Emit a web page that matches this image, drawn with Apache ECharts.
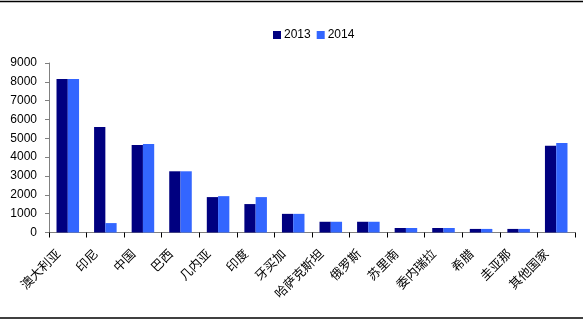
<!DOCTYPE html>
<html>
<head>
<meta charset="utf-8">
<style>
  html, body { margin: 0; padding: 0; background: #ffffff; }
  #chart { width: 587px; height: 322px; }
</style>
<script src="https://cdn.jsdelivr.net/npm/echarts@6/dist/echarts.min.js"></script>
</head>
<body>
<div id="chart"></div>
<script>
// Countries on the category axis
const countries = ['澳大利亚', '印尼', '中国', '巴西', '几内亚', '印度', '牙买加', '哈萨克斯坦', '俄罗斯', '苏里南', '委内瑞拉', '希腊', '圭亚那', '其他国家'];
// Yearly values per country
const values2013 = [8150, 5600, 4650, 3250, 1880, 1510, 990, 570, 570, 240, 240, 190, 190, 4600];
const values2014 = [8150, 500, 4700, 3250, 1930, 1880, 990, 570, 570, 240, 240, 190, 190, 4750];
// Value axis range
const yMin = 0, yMax = 9000, yStep = 1000;

const chart = echarts.init(document.getElementById('chart'), null, { renderer: 'canvas' });

chart.setOption({
  animation: false,
  backgroundColor: '#ffffff',
  legend: {
    top: 24,
    left: 268,
    itemWidth: 8,
    itemHeight: 8,
    itemGap: 6,
    icon: 'rect',
    textStyle: { fontFamily: 'Arial, "Liberation Sans", sans-serif', fontSize: 12, color: '#000', padding: [0, 0, 0, -2] },
    data: ['2013', '2014']
  },
  grid: { left: 49, right: 12, top: 63, bottom: 89.5, containLabel: false },
  xAxis: {
    type: 'category',
    data: countries,
    boundaryGap: true,
    axisLine: { lineStyle: { color: '#808080', width: 1 } },
    axisTick: { show: true, alignWithLabel: false, length: 5, lineStyle: { color: '#000' } },
    axisLabel: {
      interval: 0,
      rotate: 45,
      margin: 9,
      padding: [0, 14, 0, 0],
      fontFamily: '"Noto Sans CJK SC", sans-serif',
      fontSize: 12.5,
      color: '#000'
    }
  },
  yAxis: {
    type: 'value',
    min: yMin,
    max: yMax,
    interval: yStep,
    splitLine: { show: false },
    axisLine: { show: true, lineStyle: { color: '#808080', width: 1 } },
    axisTick: { show: true, length: 4, lineStyle: { color: '#808080' } },
    axisLabel: {
      margin: 12,
      formatter: function (v) { return String(v); },
      fontFamily: 'Arial, "Liberation Sans", sans-serif',
      fontSize: 12,
      color: '#000'
    }
  },
  series: [
    {
      name: '2013',
      type: 'bar',
      data: values2013,
      barGap: '0%',
      barCategoryGap: '40%',
      itemStyle: { color: '#000080' }
    },
    {
      name: '2014',
      type: 'bar',
      data: values2014,
      barGap: '0%',
      barCategoryGap: '40%',
      itemStyle: { color: '#3366FF' }
    }
  ],
  graphic: [
    { type: 'line', shape: { x1: 0, y1: 1.5, x2: 583, y2: 1.5 }, style: { stroke: '#000', lineWidth: 1.5 } },
    { type: 'line', shape: { x1: 0, y1: 318, x2: 583, y2: 318 }, style: { stroke: '#000', lineWidth: 1.5 } }
  ]
});
</script>
</body>
</html>
